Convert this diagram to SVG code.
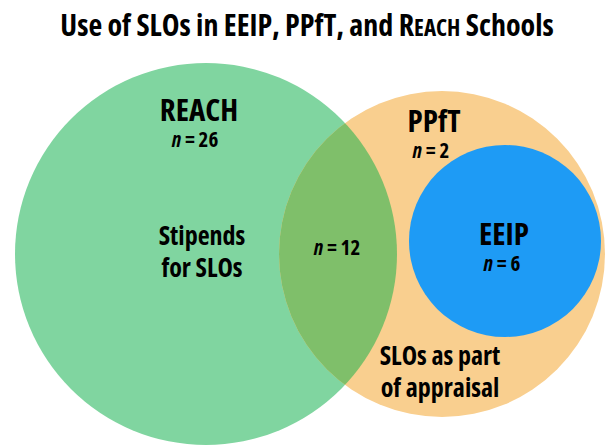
<svg xmlns="http://www.w3.org/2000/svg" width="610" height="446" viewBox="0 0 610 446">
  <style>
    text { font-family: "Open Sans", "Liberation Sans Narrow", "Liberation Sans", sans-serif; font-weight: 700; font-stretch: condensed; fill: #000; text-anchor: middle; }
    .title { font-size: 30px; }
    .set { font-size: 31px; }
    .count { font-size: 21px; }
    .note { font-size: 26px; }
    .n { font-style: italic; }
  </style>
  <defs>
    <clipPath id="greenClip">
      <circle cx="206" cy="254" r="191"/>
    </clipPath>
  </defs>

  <text class="title" x="307" y="36">Use of SLOs in EEIP, PPfT, and R<tspan font-size="23">EACH</tspan> Schools</text>

  <g id="reach">
    <circle cx="206" cy="254" r="191" fill="#80D5A0"/>
  </g>
  <g id="ppft">
    <circle cx="442" cy="254" r="163" fill="#F9CF8F"/>
  </g>
  <g id="overlap">
    <circle cx="442" cy="254" r="163" fill="#7FBF6A" clip-path="url(#greenClip)"/>
  </g>
  <g id="eeip">
    <circle cx="505" cy="241" r="96" fill="#1E9BF5"/>
  </g>

  <g id="labels">
    <text class="set" x="199" y="121">REACH</text>
    <text class="count" x="195" y="147"><tspan class="n">n</tspan> = 26</text>
    <text class="note" x="202" y="245">Stipends</text>
    <text class="note" x="202" y="277">for SLOs</text>

    <text class="set" x="434" y="132">PPfT</text>
    <text class="count" x="431" y="158"><tspan class="n">n</tspan> = 2</text>

    <text class="count" x="337" y="255"><tspan class="n">n</tspan> = 12</text>

    <text class="set" x="504" y="245">EEIP</text>
    <text class="count" x="502" y="271"><tspan class="n">n</tspan> = 6</text>

    <text class="note" x="440" y="365">SLOs as part</text>
    <text class="note" x="440" y="397">of appraisal</text>
  </g>
</svg>
